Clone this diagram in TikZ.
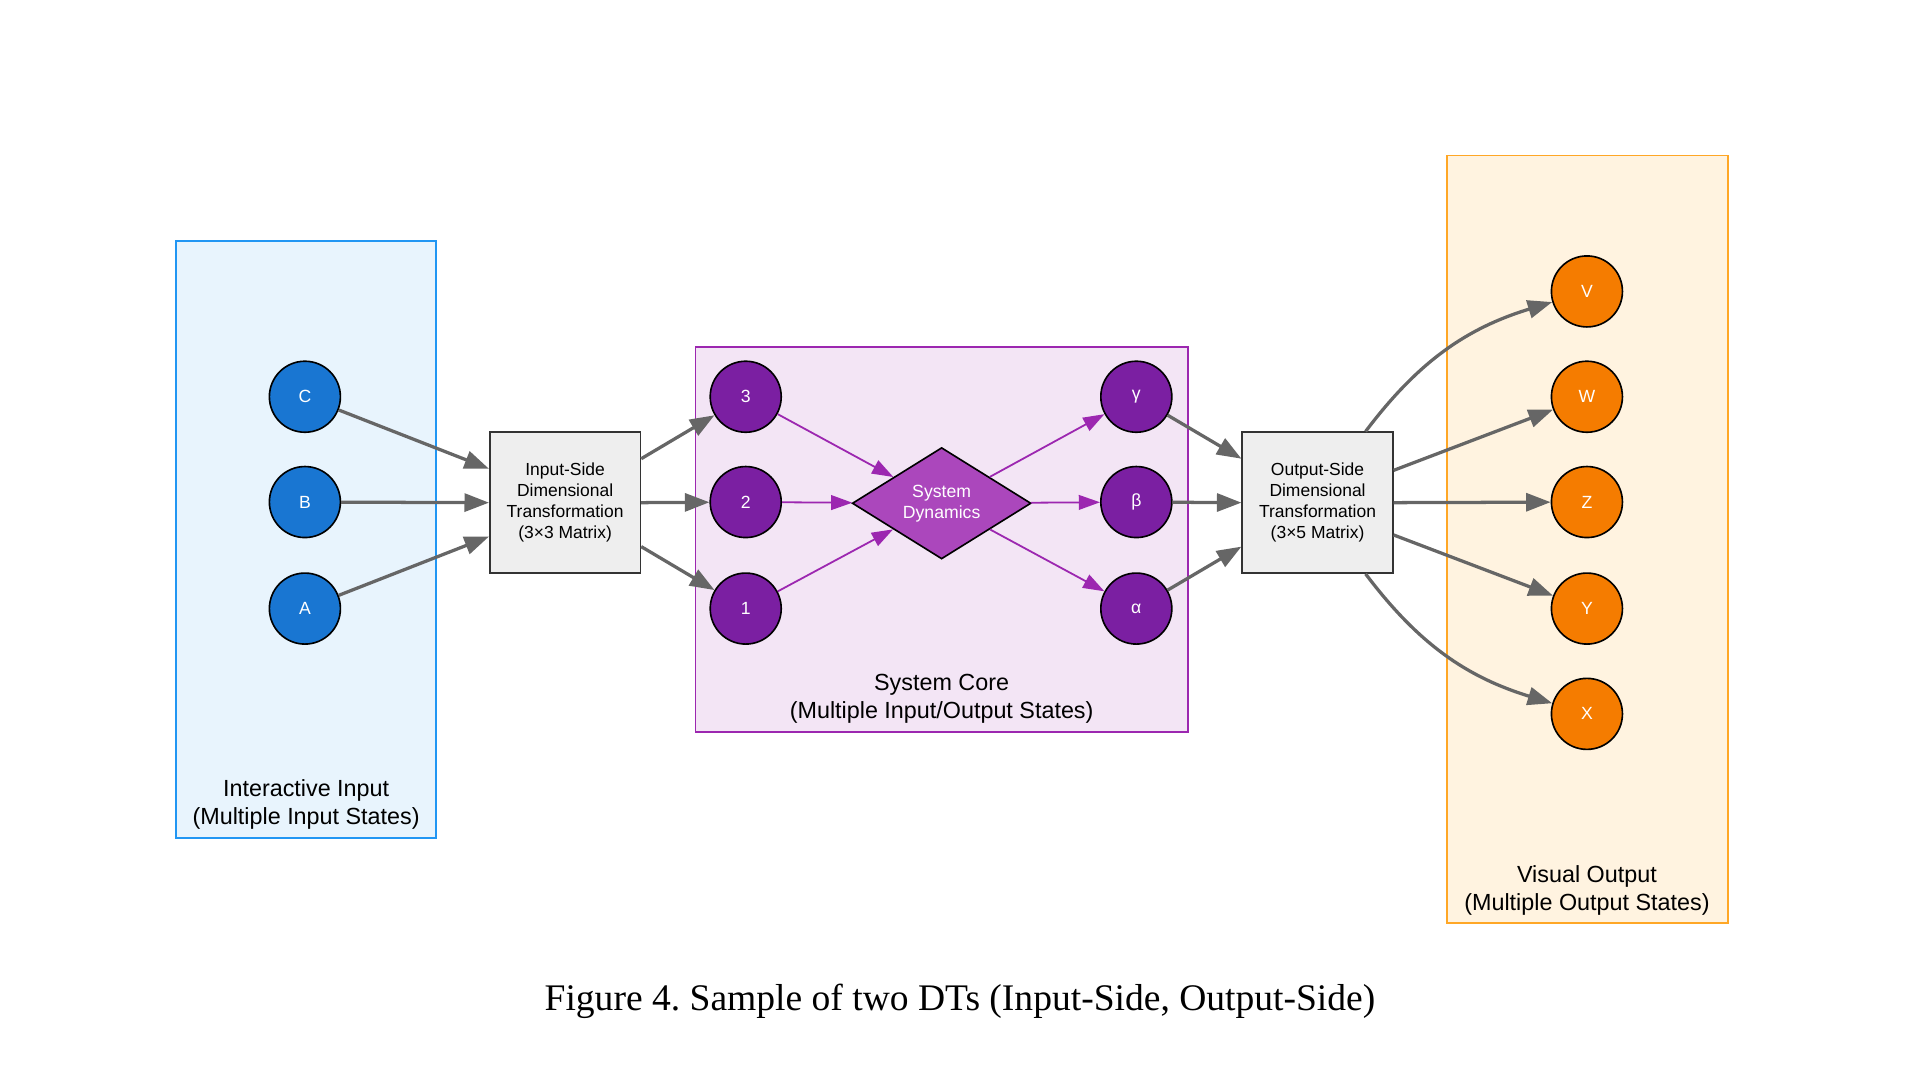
\documentclass[tikz,border=0pt]{standalone}
\usepackage{fontspec}
\setmainfont{Liberation Sans}
\newfontfamily\capfont{Liberation Serif}
\usetikzlibrary{shapes.geometric,arrows.meta}
\definecolor{inline}{HTML}{2196F3}
\definecolor{infill}{HTML}{E8F4FD}
\definecolor{coreline}{HTML}{9C27B0}
\definecolor{corefill}{HTML}{F3E5F5}
\definecolor{outline}{HTML}{FFA726}
\definecolor{outfill}{HTML}{FFF3E0}
\definecolor{inblue}{HTML}{1976D2}
\definecolor{corepurple}{HTML}{7B1FA2}
\definecolor{dynfill}{HTML}{AB47BC}
\definecolor{outorange}{HTML}{F57C00}
\definecolor{boxfill}{HTML}{EEEEEE}
\definecolor{boxline}{HTML}{333333}
\definecolor{flowgray}{HTML}{666666}

\begin{document}
\frenchspacing
\begin{tikzpicture}[x = 0.75pt, y = -0.75pt,
	state/.style = {circle, draw = black, line width = 1pt, minimum size = 43.5pt, inner sep = 0pt, text = white, font = \fontsize{10.8}{13}\selectfont},
	dtbox/.style = {rectangle, draw = boxline, fill = boxfill, line width = 1pt, minimum width = 92.25pt, minimum height = 86.25pt, inner sep = 0pt, align = center, font = \fontsize{10.7}{12.75}\selectfont},
	grouplabel/.style = {align = center, font = \fontsize{14.3}{17}\selectfont},
	flow/.style = {draw = flowgray, line width = 2pt, -{Triangle[length = 15pt, width = 11pt]}},
	coreflow/.style = {draw = coreline, line width = 1.1pt, -{Triangle[length = 13pt, width = 9pt]}}]
	\useasboundingbox (0,0) rectangle (1568,882);
	\filldraw [draw = inline, fill = infill, line width = 1.2pt] (144,197) rectangle (356,684);
	\filldraw [draw = coreline, fill = corefill, line width = 1.2pt] (568,283) rectangle (970,598);
	\filldraw [draw = outline, fill = outfill, line width = 1.2pt] (1182,127) rectangle (1411,754);
	\node[grouplabel] (inlabel) at (250,657) {Interactive Input\\(Multiple Input States)};
	\node[grouplabel] (corelabel) at (769,570.5) {System Core\\(Multiple Input/Output States)};
	\node[grouplabel] (outlabel) at (1296,727) {Visual Output\\(Multiple Output States)};
	\node[state, fill = inblue] (inC) at (249,324) {C};
	\node[state, fill = inblue] (inB) at (249,410) {B};
	\node[state, fill = inblue] (inA) at (249,497) {A};
	\node[dtbox] (inbox) at (461.5,410.5) {Input-Side\\Dimensional\\Transformation\\(3×3 Matrix)};
	\node[state, fill = corepurple] (core3) at (609,324) {3};
	\node[state, fill = corepurple] (core2) at (609,410) {2};
	\node[state, fill = corepurple] (core1) at (609,497) {1};
	\node[diamond, aspect = 1.6, draw = black, fill = dynfill, line width = 1pt, minimum width = 109.5pt, minimum height = 68.25pt, inner sep = 0pt, text = white, align = center, font = \fontsize{10.8}{12.75}\selectfont] (dyn) at (769,411) {System\\Dynamics};
	\node[state, fill = corepurple] (coreg) at (928,324) {γ};
	\node[state, fill = corepurple] (coreb) at (928,410) {β};
	\node[state, fill = corepurple] (corea) at (928,497) {α};
	\node[dtbox] (outbox) at (1076,410.5) {Output-Side\\Dimensional\\Transformation\\(3×5 Matrix)};
	\node[state, fill = outorange] (outV) at (1296,238) {V};
	\node[state, fill = outorange] (outW) at (1296,324) {W};
	\node[state, fill = outorange] (outZ) at (1296,410) {Z};
	\node[state, fill = outorange] (outY) at (1296,497) {Y};
	\node[state, fill = outorange] (outX) at (1296,583) {X};
	\draw[flow] (inC) -- (inbox.156);
	\draw[flow] (inB) -- (inbox.west);
	\draw[flow] (inA) -- (inbox.204);
	\draw[flow] (inbox.30) -- (core3);
	\draw[flow] (inbox.east) -- (core2);
	\draw[flow] (inbox.-30) -- (core1);
	\draw[coreflow] (core3) -- (dyn);
	\draw[coreflow] (core2) -- (dyn);
	\draw[coreflow] (core1) -- (dyn);
	\draw[coreflow] (dyn) -- (coreg);
	\draw[coreflow] (dyn) -- (coreb);
	\draw[coreflow] (dyn) -- (corea);
	\draw[flow] (coreg) -- (outbox.150);
	\draw[flow] (coreb) -- (outbox.west);
	\draw[flow] (corea) -- (outbox.210);
	\draw[flow] (outbox.56) to[out = 53, in = 197] (outV);
	\draw[flow] (outbox.23) -- (outW);
	\draw[flow] (outbox.east) -- (outZ);
	\draw[flow] (outbox.-23) -- (outY);
	\draw[flow] (outbox.-56) to[out = -53, in = 163] (outX);
	\node[font = \capfont\fontsize{23}{28}\selectfont] (caption) at (784,818) {Figure 4. Sample of two DTs (Input-Side, Output-Side)};
\end{tikzpicture}
\end{document}
